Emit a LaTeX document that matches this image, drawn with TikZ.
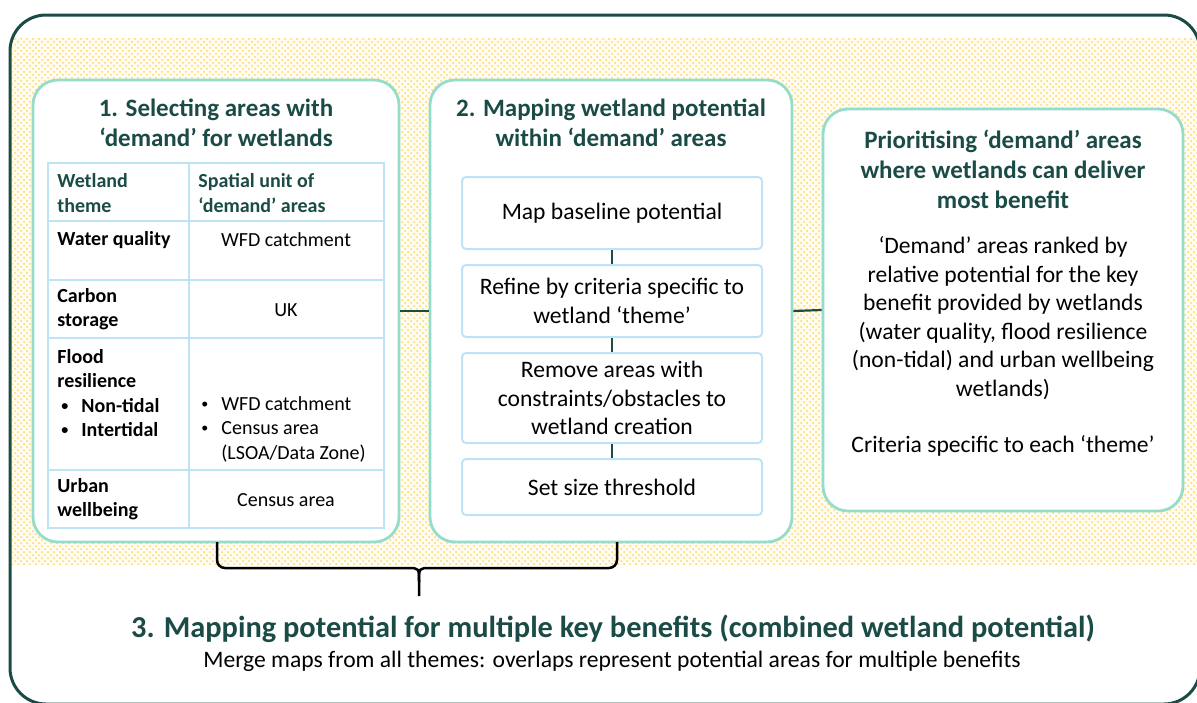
\documentclass[tikz,border=0pt]{standalone}
\usepackage{fontspec}
\setmainfont{Carlito}
\usetikzlibrary{positioning,patterns,calc}

\definecolor{darkteal}{HTML}{1B4B46}
\definecolor{mint}{HTML}{96DCCB}
\definecolor{paleblue}{HTML}{BFE3F6}
\definecolor{dotyellow}{HTML}{FFD75E}
\definecolor{bandbg}{HTML}{FFFCF2}

\newcommand{\smallbul}{\makebox[10pt][l]{\raisebox{0.2ex}{\scalebox{0.7}{\textbullet}}}}

\begin{document}
\begin{tikzpicture}[x=0.5pt,y=-0.5pt,
        frame/.style={draw=darkteal,line width=1.5pt,rounded corners=18pt},
        stagebox/.style={draw=mint,line width=1.4pt,fill=white,rounded corners=12.5pt,inner sep=0pt},
        stepbox/.style={draw=paleblue,line width=1pt,fill=white,rounded corners=2pt,inner sep=0pt,
            minimum width=150pt,align=center,font=\fontsize{11.8}{14.25}\selectfont},
        stagetitle/.style={align=center,text=darkteal,font=\fontsize{12.5}{15}\selectfont\bfseries},
        bodytext/.style={align=center,font=\fontsize{11.8}{14.25}\selectfont},
        cell/.style={inner sep=0pt,font=\fontsize{10}{12.25}\selectfont},
        headcell/.style={cell,anchor=west,align=left,text=darkteal,font=\fontsize{10}{12.25}\selectfont\bfseries},
        themecell/.style={cell,anchor=west,align=left,font=\fontsize{10}{12.25}\selectfont\bfseries},
        tablerule/.style={draw=paleblue,line width=1.3pt},
        link/.style={draw=darkteal,line width=1.1pt}]
        \useasboundingbox (0,0) rectangle (1197,702);
        \clip (0,0) rectangle (1197,702);
        % dotted band and outer frame
        \fill[bandbg] (12,38) rectangle (1197,565);
        \fill[pattern=crosshatch dots,pattern color=dotyellow] (12,38) rectangle (1197,565);
        \draw[frame] (10,15) rectangle (1200,704);
        % the three stages
        \node[stagebox,minimum width=183pt,minimum height=231pt] (select) at (216,311) {};
        \node[stagebox,minimum width=181pt,minimum height=231pt] (mapping) at (611,311) {};
        \node[stagebox,minimum width=180pt,minimum height=201pt] (prior) at (1003,310) {};
        \draw[link] (select.east) -- (mapping.west);
        \draw[link] (mapping.east) -- (prior.west);
        % stage 1
        \node[stagetitle] (t1) at (216,123) {1. Selecting areas with\\‘demand’ for wetlands};
        \draw[tablerule] (48,163) rectangle (384,528);
        \foreach \ry in {221,280,338,470}
            \draw[tablerule] (48,\ry) -- (384,\ry);
        \draw[tablerule] (189,163) -- (189,528);
        \node[headcell] (h1) at (57,193) {Wetland\\theme};
        \node[headcell] (h2) at (198,193) {Spatial unit of\\‘demand’ areas};
        \node[themecell] (wq) at (57,240) {Water quality};
        \node[cell] (wqu) at (286,240) {WFD catchment};
        \node[themecell] (cs) at (57,309) {Carbon\\storage};
        \node[cell] (csu) at (286,310) {UK};
        \node[themecell] (fr) at (57,393) {Flood\\resilience\\
            \hspace{2pt}\smallbul Non-tidal\\\hspace{2pt}\smallbul Intertidal};
        \node[cell,anchor=west,align=left] (fru) at (201,429) {\smallbul WFD catchment\\
            \smallbul Census area\\\makebox[10pt][l]{}(LSOA/Data Zone)};
        \node[themecell] (uw) at (57,499) {Urban\\wellbeing};
        \node[cell] (uwu) at (286,500) {Census area};
        % stage 2
        \node[stagetitle] (t2) at (611,123) {2. Mapping wetland potential\\within ‘demand’ areas};
        \node[stepbox,minimum height=36pt] (s1) at (612,213) {Map baseline potential};
        \node[stepbox,minimum height=36pt] (s2) at (612,301) {Refine by criteria specific to\\wetland ‘theme’};
        \node[stepbox,minimum height=45pt] (s3) at (612,398) {Remove areas with\\constraints/obstacles to\\wetland creation};
        \node[stepbox,minimum height=28pt] (s4) at (612,487) {Set size threshold};
        \draw[link] (s1) -- (s2);
        \draw[link] (s2) -- (s3);
        \draw[link] (s3) -- (s4);
        % prioritising
        \node[stagetitle] (t3) at (1003,169) {Prioritising ‘demand’ areas\\where wetlands can deliver\\most benefit};
        \node[bodytext] (ranked) at (1003,318) {‘Demand’ areas ranked by\\relative potential for the key\\benefit provided by wetlands\\(water quality, flood resilience\\(non-tidal) and urban wellbeing\\wetlands)};
        \node[bodytext] (crit) at (1003,446) {Criteria specific to each ‘theme’};
        % brace to stage 3
        \coordinate (bl) at (217,542);
        \coordinate (br) at (617,542);
        \coordinate (tip) at (419,596);
        \draw[line width=1.25pt,rounded corners=4pt] (bl) -- (217,568) -- (408,568);
        \draw[line width=1.25pt] (408,568) .. controls (419,568) .. (419,582) -- (tip);
        \draw[line width=1.25pt] (419,582) .. controls (419,568) .. (430,568);
        \draw[line width=1.25pt,rounded corners=4pt] (430,568) -- (617,568) -- (br);
        % stage 3
        \node[text=darkteal,font=\fontsize{15.2}{18}\selectfont\bfseries] (t4) at (613,629)
            {3. Mapping potential for multiple key benefits (combined wetland potential)};
        \node[font=\fontsize{11.8}{14}\selectfont] (merge) at (612,661)
            {Merge maps from all themes: overlaps represent potential areas for multiple benefits};
    \end{tikzpicture}
\end{document}
